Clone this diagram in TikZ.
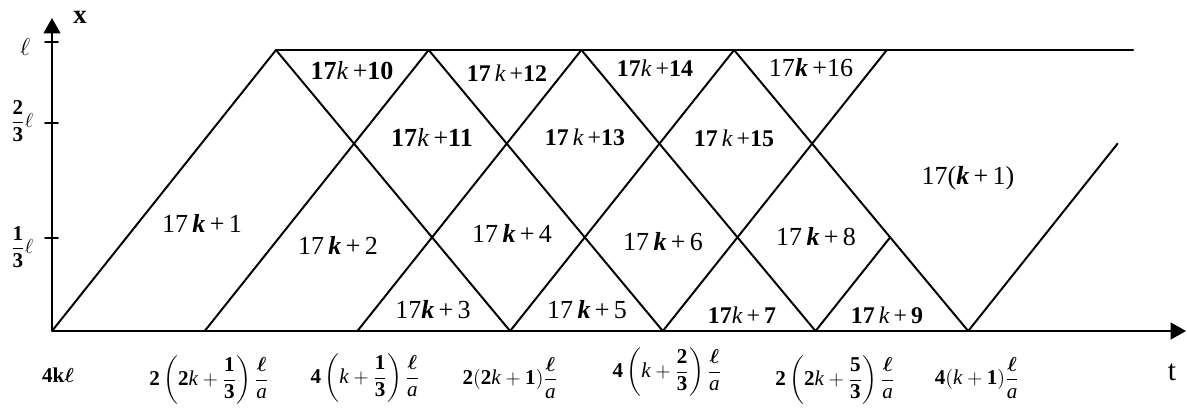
\documentclass[tikz,border=0pt]{standalone}
\usepackage{amsmath}
\usepackage{fontspec}
\setmainfont{Liberation Serif}
\usetikzlibrary{arrows.meta,calc}

\newcommand{\kr}{\textit{k}}
\newcommand{\kB}{\textbf{\textit{k}}}
\newcommand{\lB}{\boldsymbol{\ell}}

\tikzset{
  wave/.style={line width=1.4pt, line cap=round, line join=round},
  axis/.style={line width=1.4pt, -{Triangle[length=11pt,width=12pt]}},
  region/.style={font=\fontsize{18.5}{22}\selectfont, inner sep=1pt},
  regionsm/.style={font=\fontsize{17}{20}\selectfont, inner sep=1pt},
  tlabel/.style={font=\fontsize{15}{18}\selectfont, inner sep=1pt},
  ylabel/.style={font=\fontsize{15}{18}\selectfont, inner sep=1pt},
}

\begin{document}
\begin{tikzpicture}[x={(0.025cm,0cm)}, y={(0cm,0.025cm)}]
    \useasboundingbox (-52,-79) rectangle (1135,331);

    % Axes
    \draw[axis] (0,0) -- (1134,0);
    \draw[axis] (0,0) -- (0,313);
    \foreach \y in {289,208,93}
        \draw[wave] (-7,\y) -- (6,\y);
    \node[font=\bfseries\fontsize{19}{22}\selectfont] (xname) at (28,314) {x};
    \node[font=\fontsize{21}{24}\selectfont] (tname) at (1120,-41) {t};
    \node[font=\fontsize{18}{20}\selectfont, inner sep=1pt] (yl3) at (-27,284) {$\ell$};
    \node[ylabel] (yl2) at (-30,210) {$\dfrac{\textbf{2}}{\textbf{3}}\ell$};
    \node[ylabel] (yl1) at (-30,84) {$\dfrac{\textbf{1}}{\textbf{3}}\ell$};

    % Characteristics
    \foreach \i in {0,...,6} {
        \coordinate (b\i) at (152.7*\i,0);
        \coordinate (p\i) at ($(b\i)+(224,281)$);
    }
    \foreach \i in {0,...,4}
        \draw[wave] (b\i) -- (p\i);
    \foreach \i/\j in {0/3,1/4,2/5,3/6}
        \draw[wave] (p\i) -- (b\j);
    \draw[wave] (b5) -- (intersection of b5--p5 and p3--b6);
    \draw[wave] (b6) -- ($(b6)!2/3!(p6)$);
    \draw[wave] (p0) -- (1081,281);

    % Regions
    \node[region] (r1) at (150,108) {17\,\kB\,+\,1};
    \node[region] (r2) at (286,86) {17\,\kB\,+\,2};
    \node[region] (r3) at (381,21) {17\kB\,+\,3};
    \node[region] (r4) at (460,98) {17\,\kB\,+\,4};
    \node[region] (r5) at (535,21) {17\,\kB\,+\,5};
    \node[region] (r6) at (611,89) {17\,\kB\,+\,6};
    \node[regionsm] (r7) at (690,16) {\textbf{17}\kr\,+\,\textbf{7}};
    \node[region] (r8) at (764,94) {17\,\kB\,+\,8};
    \node[regionsm] (r9) at (835,16) {\textbf{17}\,\kr\,+\,\textbf{9}};
    \node[region] (r10) at (300,260) {\textbf{17}\kr\,+\textbf{10}};
    \node[region] (r11) at (380,194) {\textbf{17}\kr\,+\textbf{11}};
    \node[regionsm] (r12) at (455,258) {\textbf{17}\,\kr\,+\textbf{12}};
    \node[regionsm] (r13) at (533,194) {\textbf{17}\,\kr\,+\textbf{13}};
    \node[regionsm] (r14) at (603,263) {\textbf{17}\kr\,+\textbf{14}};
    \node[regionsm] (r15) at (682,193) {\textbf{17}\,\kr\,+\textbf{15}};
    \node[region] (r16) at (759,263) {17\kB\,+16};
    \node[region] (r17) at (916,153) {17(\kB\,+\,1)};

    % Time marks
    \node[tlabel] (t0) at (6,-44) {\textbf{4k}$\lB$};
    \node[tlabel] (t1) at (157,-49) {$\textbf{2}\left(\textbf{2}\kr+\dfrac{\textbf{1}}{\textbf{3}}\right)\dfrac{\lB}{\textit{a}}$};
    \node[tlabel] (t2) at (313,-47) {$\textbf{4}\left(\kr+\dfrac{\textbf{1}}{\textbf{3}}\right)\dfrac{\lB}{\textit{a}}$};
    \node[tlabel] (t3) at (458,-47) {$\textbf{2}(\textbf{2}\kr+\textbf{1})\dfrac{\lB}{\textit{a}}$};
    \node[tlabel] (t4) at (615,-41) {$\textbf{4}\left(\kr+\dfrac{\textbf{2}}{\textbf{3}}\right)\dfrac{\lB}{\textit{a}}$};
    \node[tlabel] (t5) at (783,-49) {$\textbf{2}\left(\textbf{2}\kr+\dfrac{\textbf{5}}{\textbf{3}}\right)\dfrac{\lB}{\textit{a}}$};
    \node[tlabel] (t6) at (925,-47) {$\textbf{4}(\kr+\textbf{1})\dfrac{\lB}{\textit{a}}$};

\end{tikzpicture}
\end{document}
